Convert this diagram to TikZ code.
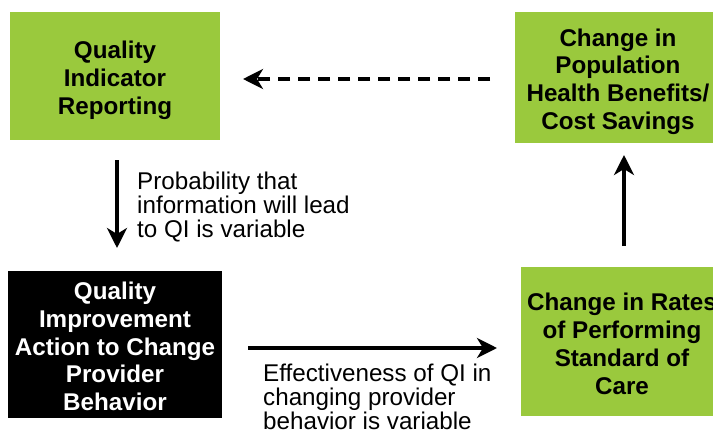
\documentclass[tikz,border=0pt]{standalone}
\usepackage{fontspec}
\setmainfont{Liberation Sans}
\usetikzlibrary{arrows.meta}
\definecolor{boxgreen}{RGB}{154,201,61}
\tikzset{
  gbox/.style={fill=boxgreen, draw=none, inner sep=0pt},
  bbox/.style={fill=black, draw=none, inner sep=0pt},
  btext/.style={align=center, inner sep=0pt,
    font=\fontsize{24.2}{27.8}\selectfont\bfseries},
  lbl/.style={align=left, inner sep=0pt, anchor=north west,
    font=\fontsize{24.2}{23.8}\selectfont},
  conn/.style={line width=3.6pt, -{Stealth[length=20pt,width=20pt,inset=6pt]}},
  dconn/.style={conn, dash pattern=on 12pt off 8pt}
}
\begin{document}
\begin{tikzpicture}[x=1pt,y=-1pt]
\useasboundingbox (0,0) rectangle (713,434);
\node[gbox, minimum width=210pt, minimum height=128pt] (qir) at (115,76) {};
\node[btext] (qirt) at ([yshift=-4pt]qir.center) {Quality\\Indicator\\Reporting};
\node[gbox, minimum width=206pt, minimum height=131pt] (pop) at (618,77.5) {};
\node[btext] (popt) at ([yshift=-4pt]pop.center)
  {Change in\\Population\\Health Benefits/\\Cost Savings};
\node[bbox, minimum width=214pt, minimum height=147pt] (qia) at (115,344.5) {};
\node[btext, text=white] (qiat) at ([yshift=-2pt]qia.center)
  {Quality\\Improvement\\Action to Change\\Provider\\Behavior};
\node[gbox, minimum width=202pt, minimum height=149pt] (rat) at (622,341.5) {};
\node[btext] (ratt) at ([yshift=-2.5pt]rat.center)
  {Change in Rates\\of Performing\\Standard of\\Care};
% arrow endpoints
\coordinate (d1) at (490,79);
\coordinate (d2) at (243,79);
\coordinate (a1) at (117,160);
\coordinate (a2) at (117,248);
\coordinate (b1) at (248,348);
\coordinate (b2) at (497,348);
\coordinate (c1) at (624,246);
\coordinate (c2) at (624,155);
\draw[dconn] (d1) -- (d2);
\draw[conn] (a1) -- (a2);
\draw[conn] (b1) -- (b2);
\draw[conn] (c1) -- (c2);
\node[lbl] (l1) at (137,172) {Probability that\\information will lead\\to QI is variable};
\node[lbl] (l2) at (263,364) {Effectiveness of QI in\\changing provider\\behavior is variable};
\end{tikzpicture}
\end{document}
